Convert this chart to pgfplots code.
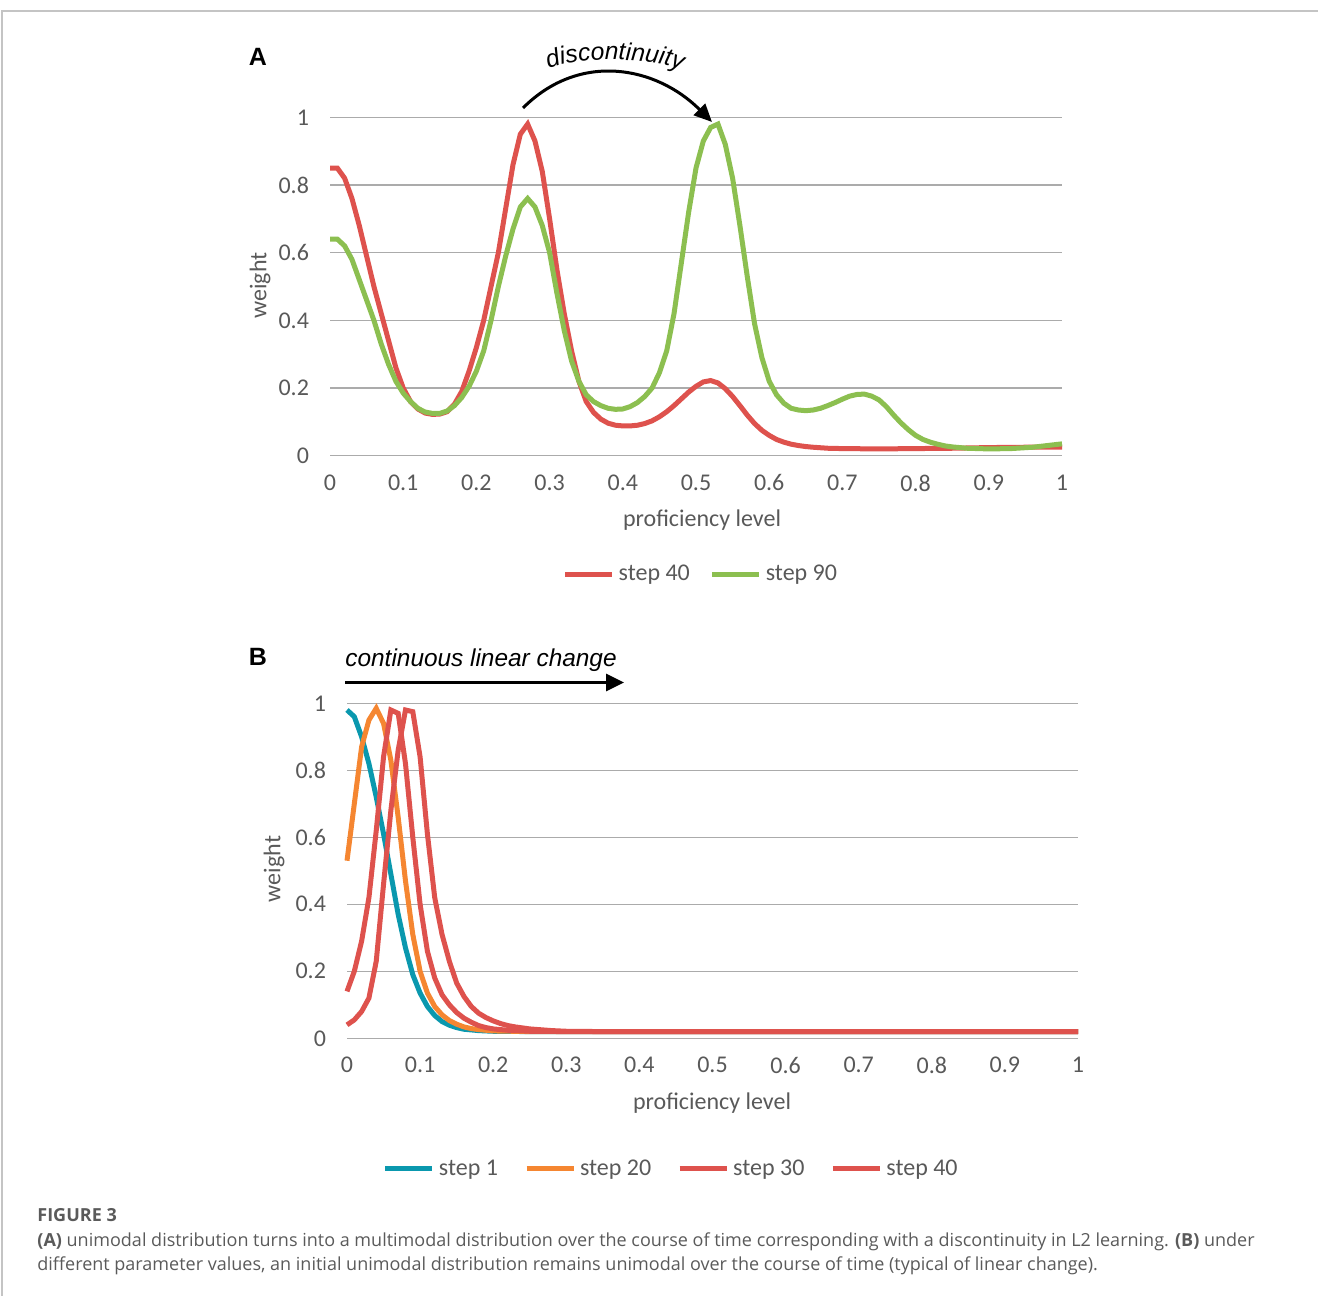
\documentclass[border=0pt]{standalone}
\usepackage{pgfplots}
\pgfplotsset{compat=1.18}
\usepackage{fontspec}
\setmainfont{Carlito}
\newfontfamily\arialfont{Liberation Sans}
\newfontfamily\capfont{Open Sans}
\usetikzlibrary{decorations.text, arrows.meta}

\definecolor{cred}{HTML}{DE524D}
\definecolor{cgreen}{HTML}{8CBF50}
\definecolor{cteal}{HTML}{0A98AE}
\definecolor{corange}{HTML}{F58631}
\definecolor{tickgray}{HTML}{595959}
\definecolor{gridgray}{HTML}{ABABAB}
\definecolor{capgray}{HTML}{5A5A5A}
\definecolor{framegray}{HTML}{C4C4C4}

\pgfplotsset{
  mystyle/.style={
    scale only axis,
    xmin=0, xmax=1, ymin=0, ymax=1,
    axis line style={draw=none},
    ymajorgrids,
    grid style={gridgray, line width=0.75pt},
    major tick length=0pt,
    xtick={0,0.1,0.2,0.3,0.4,0.5,0.6,0.7,0.8,0.9,1},
    ytick={0,0.2,0.4,0.6,0.8,1},
    tick label style={font=\fontsize{12}{14}\selectfont, color=tickgray},
    /pgf/number format/assume math mode=true,
    yticklabel style={xshift=-7pt},
    xticklabel style={yshift=-6pt},
    clip=false,
    legend columns=-1,
    legend style={draw=none, fill=none, font=\fontsize{12}{14}\selectfont, text=tickgray},
    legend image code/.code={\draw[#1, line width=2.5pt] (0pt,0pt) -- (23.5pt,0pt);},
  }
}

\begin{document}
\begin{tikzpicture}[x=0.5pt, y=0.5pt]
\useasboundingbox (0,0) rectangle (1318,1296);
% frame
\draw[framegray, line width=0.75pt] (2,0) -- (2,1285) -- (1318,1285);

% ---------------- Panel A ----------------
\node[font=\arialfont\bfseries\fontsize{12.5}{14}\selectfont] at (258,1239) {A};
\begin{axis}[mystyle, at={(165pt,420.15pt)}, anchor=south west,
  width=366pt, height=169.2pt,
  legend style={at={(0.508,-0.35)}, anchor=center,
    /tikz/every even column/.append style={column sep=8pt}}]
\addplot[cred, line width=2.5pt, mark=none] table {
0 0.85
0.01 0.85
0.02 0.82
0.03 0.76
0.04 0.68
0.05 0.59
0.06 0.50
0.07 0.42
0.08 0.34
0.09 0.26
0.10 0.20
0.11 0.16
0.12 0.138
0.13 0.126
0.14 0.122
0.15 0.123
0.16 0.13
0.17 0.152
0.18 0.19
0.19 0.25
0.20 0.32
0.21 0.40
0.22 0.50
0.23 0.60
0.24 0.73
0.25 0.86
0.26 0.95
0.27 0.98
0.28 0.93
0.29 0.84
0.30 0.70
0.31 0.55
0.32 0.42
0.33 0.31
0.34 0.22
0.35 0.16
0.36 0.128
0.37 0.108
0.38 0.096
0.39 0.09
0.40 0.088
0.41 0.088
0.42 0.09
0.43 0.095
0.44 0.103
0.45 0.115
0.46 0.13
0.47 0.148
0.48 0.168
0.49 0.188
0.50 0.205
0.51 0.218
0.52 0.222
0.53 0.215
0.54 0.198
0.55 0.175
0.56 0.148
0.57 0.12
0.58 0.095
0.59 0.075
0.60 0.06
0.61 0.048
0.62 0.04
0.63 0.034
0.64 0.03
0.65 0.027
0.66 0.025
0.68 0.022
0.70 0.021
0.75 0.02
0.80 0.021
0.85 0.022
0.90 0.024
0.95 0.025
1.00 0.025
};
\addlegendentry{step 40}
\addplot[cgreen, line width=2.5pt, mark=none] table {
0 0.64
0.01 0.64
0.02 0.62
0.03 0.58
0.04 0.52
0.05 0.46
0.06 0.40
0.07 0.33
0.08 0.27
0.09 0.22
0.10 0.185
0.11 0.16
0.12 0.14
0.13 0.129
0.14 0.125
0.15 0.125
0.16 0.132
0.17 0.148
0.18 0.172
0.19 0.205
0.20 0.25
0.21 0.31
0.22 0.40
0.23 0.50
0.24 0.59
0.25 0.67
0.26 0.735
0.27 0.76
0.28 0.735
0.29 0.68
0.30 0.60
0.31 0.48
0.32 0.37
0.33 0.28
0.34 0.22
0.35 0.18
0.36 0.16
0.37 0.148
0.38 0.14
0.39 0.137
0.40 0.138
0.41 0.145
0.42 0.157
0.43 0.175
0.44 0.20
0.45 0.245
0.46 0.31
0.47 0.42
0.48 0.57
0.49 0.72
0.50 0.85
0.51 0.93
0.52 0.97
0.53 0.98
0.54 0.92
0.55 0.82
0.56 0.68
0.57 0.53
0.58 0.39
0.59 0.29
0.60 0.22
0.61 0.18
0.62 0.155
0.63 0.14
0.64 0.135
0.65 0.133
0.66 0.135
0.67 0.14
0.68 0.148
0.69 0.157
0.70 0.167
0.71 0.176
0.72 0.181
0.73 0.182
0.74 0.176
0.75 0.165
0.76 0.145
0.77 0.12
0.78 0.097
0.79 0.077
0.80 0.06
0.81 0.048
0.82 0.04
0.83 0.034
0.84 0.029
0.85 0.026
0.87 0.022
0.90 0.02
0.93 0.021
0.96 0.025
1.00 0.035
};
\addlegendentry{step 90}
\end{axis}
\node[font=\fontsize{12}{14}\selectfont, text=tickgray, rotate=90] at (260,1010.5) {weight};
\node[font=\fontsize{12}{14}\selectfont, text=tickgray] at (702,776) {proficiency level};
% discontinuity arrow
\draw[line width=1.5pt, -{Triangle[length=9pt, width=8pt]}] (523,1188) .. controls (580,1245) and (656.5,1229.5) .. (712,1174);
\path[decorate, decoration={text along path, text align=center,
  text={|\arialfont\itshape\fontsize{12.3}{14}\selectfont|discontinuity}}]
  (544,1225) .. controls (573,1240) and (653,1240) .. (686,1224);

% ---------------- Panel B ----------------
\node[font=\arialfont\bfseries\fontsize{12.5}{14}\selectfont] at (258,639) {B};
\begin{axis}[mystyle, at={(173.5pt,128.85pt)}, anchor=south west,
  width=365.5pt, height=167.5pt,
  legend style={at={(0.445,-0.39)}, anchor=center,
    /tikz/every even column/.append style={column sep=11pt}}]
\addplot[cteal, line width=2.5pt, mark=none] table {
0 0.98
0.01 0.96
0.02 0.90
0.03 0.82
0.04 0.72
0.05 0.61
0.06 0.49
0.07 0.37
0.08 0.27
0.09 0.19
0.10 0.135
0.11 0.095
0.12 0.068
0.13 0.05
0.14 0.039
0.15 0.032
0.16 0.027
0.18 0.023
0.20 0.021
0.25 0.02
1.00 0.02
};
\addlegendentry{step 1}
\addplot[corange, line width=2.5pt, mark=none] table {
0 0.53
0.01 0.70
0.02 0.87
0.03 0.95
0.04 0.985
0.05 0.94
0.06 0.83
0.07 0.66
0.08 0.47
0.09 0.31
0.10 0.20
0.11 0.135
0.12 0.095
0.13 0.07
0.14 0.053
0.15 0.042
0.16 0.034
0.17 0.029
0.18 0.026
0.20 0.022
0.25 0.02
1.00 0.02
};
\addlegendentry{step 20}
\addplot[cred, line width=2.5pt, mark=none] table {
0 0.14
0.01 0.20
0.02 0.29
0.03 0.42
0.04 0.62
0.05 0.84
0.06 0.98
0.07 0.97
0.08 0.82
0.09 0.60
0.10 0.40
0.11 0.26
0.12 0.18
0.13 0.13
0.14 0.10
0.15 0.077
0.16 0.06
0.17 0.048
0.18 0.038
0.19 0.032
0.20 0.028
0.22 0.024
0.25 0.021
0.30 0.02
1.00 0.02
};
\addlegendentry{step 30}
\addplot[cred, line width=2.5pt, mark=none] table {
0 0.04
0.01 0.055
0.02 0.08
0.03 0.12
0.04 0.23
0.05 0.46
0.06 0.68
0.07 0.86
0.08 0.98
0.09 0.975
0.10 0.84
0.11 0.61
0.12 0.42
0.13 0.31
0.14 0.23
0.15 0.165
0.16 0.125
0.17 0.095
0.18 0.075
0.19 0.062
0.20 0.052
0.21 0.044
0.22 0.038
0.23 0.034
0.25 0.028
0.28 0.023
0.30 0.021
0.35 0.02
1.00 0.02
};
\addlegendentry{step 40}
\end{axis}
\node[font=\fontsize{12}{14}\selectfont, text=tickgray, rotate=90] at (274,427) {weight};
\node[font=\fontsize{12}{14}\selectfont, text=tickgray] at (712,193) {proficiency level};
% continuous linear change arrow
\node[font=\arialfont\itshape\fontsize{12.2}{14}\selectfont, anchor=base west, inner sep=0pt] at (345,629) {continuous linear change};
\draw[line width=1.6pt, -{Triangle[length=9pt, width=8.5pt]}] (345,613.5) -- (624,613.5);

% ---------------- Caption ----------------
\node[font=\capfont\bfseries\fontsize{9}{11}\selectfont, text=capgray, anchor=base west, inner sep=0pt] at (37,74) {FIGURE 3};
\node[font=\capfont\fontsize{9}{11}\selectfont, text=capgray, anchor=base west, inner sep=0pt] at (37,49) {\textbf{(A)} unimodal distribution turns into a multimodal distribution over the course of time corresponding with a discontinuity in L2 learning. \textbf{(B)} under};
\node[font=\capfont\fontsize{9}{11}\selectfont, text=capgray, anchor=base west, inner sep=0pt] at (37,25) {different parameter values, an initial unimodal distribution remains unimodal over the course of time (typical of linear change).};
\end{tikzpicture}
\end{document}
